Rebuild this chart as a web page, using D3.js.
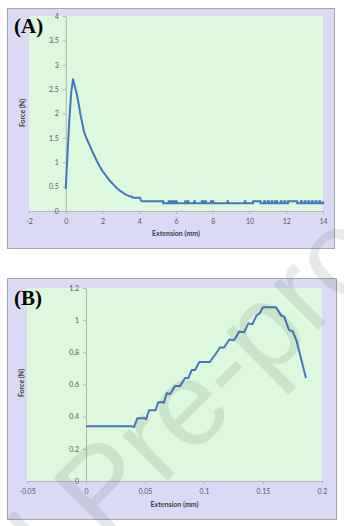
<!DOCTYPE html>
<html><head><meta charset="utf-8">
<script src="https://cdn.jsdelivr.net/npm/d3@7"></script>
<style>
html,body{margin:0;padding:0;background:#fff;}
svg{display:block;}
</style></head>
<body>
<svg id="c" width="344" height="526"></svg>
<script>
// ---------- Panel A data ----------
const aCurveX = [0, 0.1, 0.2, 0.3, 0.4, 0.5, 0.6, 0.7, 0.8, 0.9, 1.0, 1.1, 1.2, 1.3, 1.4, 1.5, 1.6, 1.7, 1.8, 1.9, 2.0, 2.1, 2.2, 2.3, 2.4, 2.5, 2.6, 2.7, 2.8, 2.9, 3.0, 3.1, 3.2, 3.3, 3.5, 3.6, 3.65, 4.05, 4.1];
const aCurveY = [0.45, 1.2, 1.9, 2.45, 2.7, 2.55, 2.4, 2.2, 1.98, 1.8, 1.62, 1.52, 1.43, 1.35, 1.26, 1.18, 1.1, 1.02, 0.95, 0.88, 0.82, 0.77, 0.72, 0.67, 0.62, 0.58, 0.54, 0.5, 0.46, 0.43, 0.4, 0.38, 0.35, 0.33, 0.3, 0.3, 0.27, 0.27, 0.2];
const aTailX = [4.1, 5.3, 5.6, 5.63, 5.7, 5.73, 5.8, 5.83, 5.9, 5.93, 6.0, 6.03, 6.5, 6.53, 6.65, 6.68, 7.0, 7.03, 7.4, 7.43, 7.5, 7.53, 7.6, 7.63, 7.9, 7.93, 8.0, 8.03, 8.8, 8.83, 9.75, 9.78, 10.2, 10.6, 10.8, 10.85, 11.0, 11.05, 11.2, 11.25, 11.4, 11.5, 11.7, 11.75, 11.9, 11.95, 12.1, 12.6, 12.8, 12.85, 13.0, 13.05, 13.2, 13.25, 13.4, 13.45, 13.6, 13.65, 13.8, 13.85, 14.0];
const aTailY = [0.2, 0.16, 0.2, 0.16, 0.2, 0.16, 0.2, 0.16, 0.2, 0.16, 0.2, 0.16, 0.2, 0.16, 0.2, 0.16, 0.2, 0.16, 0.2, 0.16, 0.2, 0.16, 0.2, 0.16, 0.2, 0.16, 0.2, 0.16, 0.2, 0.16, 0.2, 0.16, 0.2, 0.16, 0.2, 0.16, 0.2, 0.16, 0.2, 0.16, 0.2, 0.16, 0.2, 0.16, 0.2, 0.16, 0.2, 0.16, 0.2, 0.16, 0.2, 0.16, 0.2, 0.16, 0.2, 0.16, 0.2, 0.16, 0.2, 0.16, 0.2];
const aXTicks = [-2, 0, 2, 4, 6, 8, 10, 12, 14];
const aXTickLabels = ["-2", "0", "2", "4", "6", "8", "10", "12", "14"];
const aYTicks = [0, 0.5, 1, 1.5, 2, 2.5, 3, 3.5, 4];
const aYTickLabels = ["0", "0.5", "1", "1.5", "2", "2.5", "3", "3.5", "4"];

// ---------- Panel B data ----------
const bX = [0, 0.0387, 0.0406, 0.0435, 0.0497, 0.0511, 0.0534, 0.059, 0.0613, 0.065, 0.066, 0.0684, 0.0712, 0.0754, 0.0797, 0.0839, 0.0867, 0.0896, 0.0924, 0.096, 0.105, 0.1094, 0.1136, 0.117, 0.1215, 0.1254, 0.13, 0.134, 0.1376, 0.141, 0.1446, 0.1469, 0.150, 0.161, 0.1653, 0.168, 0.172, 0.1752, 0.1785, 0.1864];
const bY = [0.34, 0.34, 0.335, 0.39, 0.39, 0.385, 0.44, 0.44, 0.49, 0.49, 0.485, 0.545, 0.54, 0.59, 0.59, 0.64, 0.64, 0.69, 0.69, 0.74, 0.74, 0.785, 0.83, 0.83, 0.88, 0.875, 0.93, 0.925, 0.98, 0.975, 1.03, 1.04, 1.08, 1.08, 1.03, 1.02, 0.94, 0.93, 0.87, 0.64];
const bXTicks = [-0.05, 0, 0.05, 0.1, 0.15, 0.2];
const bXTickLabels = ["-0.05", "0", "0.05", "0.1", "0.15", "0.2"];
const bYTicks = [0, 0.2, 0.4, 0.6, 0.8, 1, 1.2];
const bYTickLabels = ["0", "0.2", "0.4", "0.6", "0.8", "1", "1.2"];

const xTitle = "Extension (mm)";
const yTitle = "Force (N)";
const watermark = "Journal Pre-proof";

const svg = d3.select("#c");
const PURPLE = "#dadaf6", GREEN = "#ddf8dd", LINE = "#4675c2", AXIS = "#b4b4b4", TXT = "#595959";
const FONT = "Lato, 'Open Sans', sans-serif";

function panel(cfg) {
  const g = svg.append("g");
  g.append("rect").attr("x", cfg.box[0] + 0.5).attr("y", cfg.box[1] + 0.5)
    .attr("width", cfg.box[2] - cfg.box[0]).attr("height", cfg.box[3] - cfg.box[1])
    .attr("fill", PURPLE).attr("stroke", "#a8a8a8").attr("stroke-width", 1);
  const x = d3.scaleLinear().domain(cfg.xDom).range([cfg.plot[0], cfg.plot[2]]);
  const y = d3.scaleLinear().domain(cfg.yDom).range([cfg.plot[3], cfg.plot[1]]);
  g.append("rect").attr("x", cfg.plot[0]).attr("y", cfg.plot[1])
    .attr("width", cfg.plot[2] - cfg.plot[0]).attr("height", cfg.plot[3] - cfg.plot[1])
    .attr("fill", GREEN);

  const xa = g.append("g").attr("transform", `translate(0,${y(0)})`)
    .call(d3.axisBottom(x).tickValues(cfg.xTicks).tickFormat((d, i) => cfg.xLabels[i]).tickSize(3).tickSizeOuter(0).tickPadding(5));
  const ya = g.append("g").attr("transform", `translate(${x(0)},0)`)
    .call(d3.axisLeft(y).tickValues(cfg.yTicks).tickFormat((d, i) => cfg.yLabels[i]).tickSize(3).tickSizeOuter(0).tickPadding(4));
  [xa, ya].forEach(a => {
    a.selectAll("path.domain").attr("stroke", AXIS);
    a.selectAll(".tick line").attr("stroke", AXIS);
    a.selectAll("text").attr("fill", TXT).attr("font-size", 7).attr("font-family", FONT);
  });

  cfg.draw(g, x, y);

  g.append("text").attr("x", (cfg.plot[0] + cfg.plot[2]) / 2 + 0).attr("y", cfg.xTitleY)
    .attr("text-anchor", "middle").attr("font-size", 7).attr("font-weight", "bold")
    .attr("font-family", FONT).attr("fill", "#404040").text(xTitle);
  g.append("text").attr("transform", `translate(${cfg.yTitleX},${cfg.yTitleYc}) rotate(-90)`)
    .attr("text-anchor", "middle").attr("font-size", 7).attr("font-weight", "bold")
    .attr("font-family", FONT).attr("fill", "#404040").text(yTitle);
  g.append("text").attr("x", 14).attr("y", cfg.labelY)
    .attr("font-size", 21).attr("font-weight", "bold")
    .attr("font-family", "'Liberation Serif', 'DejaVu Serif', serif").attr("fill", "#000").text(cfg.label);
}

panel({
  box: [7, 8, 334, 248], plot: [29, 16, 323, 211],
  xDom: [-2, 14], yDom: [0, 4],
  xTicks: aXTicks, xLabels: aXTickLabels, yTicks: aYTicks, yLabels: aYTickLabels,
  xTitleY: 236, yTitleX: 25, yTitleYc: 113, labelY: 33, label: "(A)",
  draw: (g, x, y) => {
    const curve = aCurveX.map((v, i) => [v, aCurveY[i]]);
    const tail = aTailX.map((v, i) => [v, aTailY[i]]);
    g.append("path").datum(curve).attr("fill", "none").attr("stroke", LINE).attr("stroke-width", 2)
      .attr("stroke-linejoin", "round")
      .attr("d", d3.line().x(d => x(d[0])).y(d => y(d[1])));
    g.append("path").datum(tail).attr("fill", "none").attr("stroke", LINE).attr("stroke-width", 2)
      .attr("d", d3.line().curve(d3.curveStepAfter).x(d => x(d[0])).y(d => y(d[1])));
  }
});

panel({
  box: [7, 278, 336, 519], plot: [27, 288, 322, 481],
  xDom: [-0.05, 0.2], yDom: [0, 1.2],
  xTicks: bXTicks, xLabels: bXTickLabels, yTicks: bYTicks, yLabels: bYTickLabels,
  xTitleY: 507, yTitleX: 24, yTitleYc: 383, labelY: 305, label: "(B)",
  draw: (g, x, y) => {
    const pts = bX.map((v, i) => [v, bY[i]]);
    g.append("path").datum(pts).attr("fill", "none").attr("stroke", LINE).attr("stroke-width", 2)
      .attr("stroke-linejoin", "round")
      .attr("d", d3.line().x(d => x(d[0])).y(d => y(d[1])));
  }
});

// watermark
svg.append("text").attr("transform", "translate(-197,845) rotate(-45)")
  .attr("text-anchor", "start").attr("font-size", 120)
  .attr("font-family", "'Liberation Sans', Arial, sans-serif")
  .attr("fill", "#3c5a3c").attr("fill-opacity", 0.12).text(watermark);
</script>
</body></html>
